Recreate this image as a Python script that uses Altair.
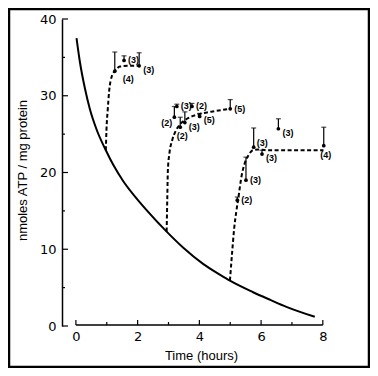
import altair as alt
import pandas as pd

# ---- data ----
solid_x = [0.02, 0.13, 0.29, 0.45, 0.67, 0.97, 1.21, 1.53, 1.97, 2.29, 2.94, 3.48, 4.12, 4.66, 4.99, 5.74, 6.30, 6.82, 7.74]
solid_y = [37.5, 34.4, 31.0, 28.3, 25.6, 22.9, 21.0, 18.9, 16.6, 15.1, 12.3, 10.2, 8.1, 6.7, 5.9, 4.4, 3.4, 2.5, 1.2]

r1_x = [0.97, 0.99, 1.03, 1.08, 1.16, 1.26, 1.43, 1.70, 2.05]
r1_y = [22.9, 25.5, 28.1, 30.7, 32.5, 33.2, 33.8, 33.9, 33.9]
r2_x = [2.94, 2.96, 2.98, 3.03, 3.12, 3.23, 3.38, 3.60, 4.00, 4.50, 5.00]
r2_y = [12.3, 16.5, 20.3, 22.5, 24.2, 25.4, 26.3, 27.0, 27.6, 28.0, 28.3]
r3_x = [4.99, 5.06, 5.13, 5.20, 5.26, 5.37, 5.47, 5.60, 5.73, 5.90, 6.20, 8.02]
r3_y = [5.9, 9.5, 12.8, 15.0, 16.6, 19.6, 21.2, 22.3, 22.9, 23.0, 22.9, 22.9]

pt_x = [1.26, 1.56, 2.05, 3.19, 3.27, 3.38, 3.53, 3.76, 4.01, 5.00, 5.23, 5.51, 5.76, 6.03, 6.56, 8.03]
pt_y = [33.2, 34.6, 33.9, 27.2, 28.6, 25.9, 26.5, 28.6, 27.3, 28.3, 16.4, 19.0, 23.3, 22.4, 25.7, 23.5]
pt_top = [35.7, 35.2, 35.6, 28.6, 28.9, 27.2, 27.9, 29.0, 27.7, 29.5, 16.8, 22.0, 25.8, 22.9, 27.0, 25.9]
pt_n = ["(4)", "(3)", "(3)", "(2)", "(3)", "(2)", "(3)", "(2)", "(5)", "(5)", "(2)", "(3)", "(3)", "(3)", "(3)", "(4)"]
pt_place = ["br", "r", "rb", "l", "r", "b", "rb", "r", "rb", "r", "r", "r", "tr", "rb", "rb", "b"]

x_major = [0, 2, 4, 6, 8]
x_minor = [1, 3, 5, 7]
x_span = [0, 8]
y_major = [0, 10, 20, 30, 40]
y_minor = [5, 15, 25, 35]

# ---- layout ----
W, H = 267, 307
xs = alt.Scale(domain=[-0.45, 8.2], nice=False, zero=False)
ys = alt.Scale(domain=[0, 40], nice=False, zero=False)

xaxis = alt.Axis(values=x_major, domain=False, ticks=False, grid=False,
                 labelFont="DejaVu Sans", labelFontSize=13, labelColor="black",
                 labelPadding=4, title="Time (hours)", titleFont="Liberation Sans",
                 titleFontSize=13, titleFontWeight="normal", titleColor="black",
                 titleX=139, titleY=29, titleBaseline="middle", titleAlign="center")
yaxis = alt.Axis(values=y_major, domain=True, domainColor="black", domainWidth=1.5,
                 ticks=False, grid=False, labelFont="DejaVu Sans", labelFontSize=13,
                 labelColor="black", labelPadding=6, title="nmoles ATP / mg protein",
                 titleFont="Liberation Sans", titleFontSize=13, titleFontWeight="normal",
                 titleColor="black", titleX=-40, titleY=151, titleAngle=270,
                 titleBaseline="middle", titleAlign="center")


def X(f="x"):
    return alt.X(f"{f}:Q", scale=xs, axis=xaxis)


def Y(f="y"):
    return alt.Y(f"{f}:Q", scale=ys, axis=yaxis)


solid = pd.DataFrame({"x": solid_x, "y": solid_y})
rec = pd.concat([
    pd.DataFrame({"x": r1_x, "y": r1_y, "g": "a"}),
    pd.DataFrame({"x": r2_x, "y": r2_y, "g": "b"}),
    pd.DataFrame({"x": r3_x, "y": r3_y, "g": "c"}),
])
pts = pd.DataFrame({"x": pt_x, "y": pt_y, "top": pt_top, "n": pt_n, "place": pt_place})

solid_line = alt.Chart(solid).mark_line(color="black", strokeWidth=2, interpolate="monotone").encode(
    x=X(), y=Y())
rec_lines = alt.Chart(rec).mark_line(color="black", strokeWidth=2, strokeDash=[4, 2.5],
                                     interpolate="monotone").encode(
    x=X(), y=Y(), detail="g:N")
err = alt.Chart(pts).mark_rule(color="black", strokeWidth=1.2).encode(x=X(), y=Y(), y2="top:Q")
caps = alt.Chart(pts).mark_tick(color="black", orient="horizontal", size=5, thickness=1.2).encode(
    x=X(), y=Y("top"))
dots = alt.Chart(pts).mark_circle(color="black", size=14, opacity=1).encode(x=X(), y=Y())

offsets = {
    "r": dict(dx=4, dy=0, align="left"),
    "rb": dict(dx=4, dy=4, align="left"),
    "br": dict(dx=8, dy=8, align="left"),
    "b": dict(dx=2, dy=9, align="center"),
    "l": dict(dx=-2, dy=6, align="right"),
    "tr": dict(dx=3, dy=-4, align="left"),
}
labels = []
for key, o in offsets.items():
    labels.append(
        alt.Chart(pts).transform_filter(alt.datum.place == key).mark_text(
            font="Liberation Sans", fontSize=9, fontWeight="bold", color="black",
            baseline="middle", **o).encode(x=X(), y=Y(), text="n:N"))

xline = alt.Chart(pd.DataFrame({"x": [x_span[0]], "x2": [x_span[1]]})).mark_rule(
    color="black", strokeWidth=1.5).encode(x=X(), x2="x2:Q", y=alt.value(H - 1))
xt_major = alt.Chart(pd.DataFrame({"x": x_major})).mark_rule(color="black", strokeWidth=1.2).encode(
    x=X(), y=alt.value(H - 1), y2=alt.value(H - 6))
xt_minor = alt.Chart(pd.DataFrame({"x": x_minor})).mark_rule(color="black", strokeWidth=1.2).encode(
    x=X(), y=alt.value(H - 1), y2=alt.value(H - 4))
yt_major = alt.Chart(pd.DataFrame({"y": y_major})).mark_rule(color="black", strokeWidth=1.2).encode(
    y=Y(), x=alt.value(0), x2=alt.value(6))
yt_minor = alt.Chart(pd.DataFrame({"y": y_minor})).mark_rule(color="black", strokeWidth=1.2).encode(
    y=Y(), x=alt.value(0), x2=alt.value(3))

frame = alt.Chart(alt.Data(values=[{}])).mark_rect(fill=None, stroke="black", strokeWidth=2.5).encode(
    x=alt.value(-53), x2=alt.value(307), y=alt.value(-10), y2=alt.value(348))

chart = alt.layer(
    solid_line, rec_lines, err, caps, dots, *labels,
    xline, xt_major, xt_minor, yt_major, yt_minor, frame
).properties(
    width=W, height=H,
    autosize=alt.AutoSizeParams(type="none"),
    padding={"left": 54, "top": 11, "right": 41, "bottom": 42},
    background="white",
).configure_view(strokeWidth=0)

chart.save("out.html", embed_options={"renderer": "svg", "actions": False})
